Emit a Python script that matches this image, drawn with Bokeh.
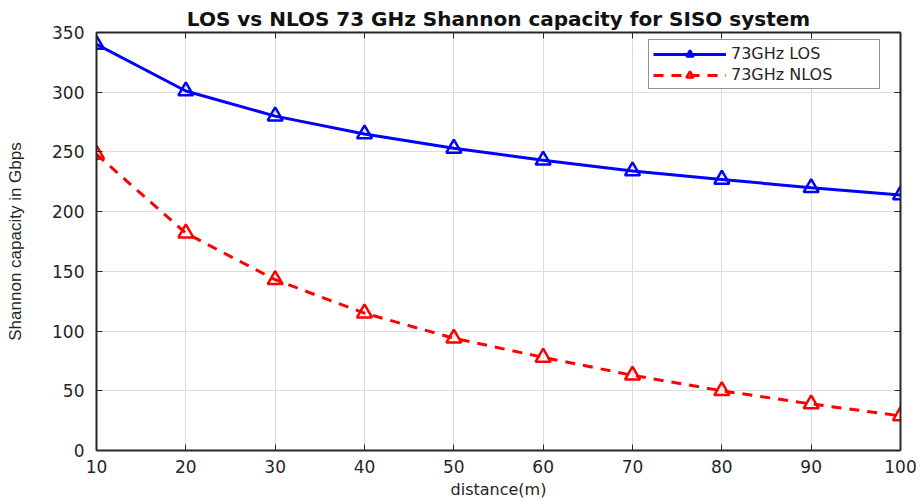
from bokeh.plotting import figure
from bokeh.models import LinearAxis, Range1d, Legend, LegendItem, FixedTicker
from bokeh.embed import file_html
from bokeh.resources import INLINE

distance = [10, 20, 30, 40, 50, 60, 70, 80, 90, 100]
los = [340, 301, 280, 265, 253, 243, 234, 227, 220, 214]
nlos = [248, 182, 143, 115, 94, 78, 63, 50, 39, 29]
x_ticks = [10, 20, 30, 40, 50, 60, 70, 80, 90, 100]
y_ticks = [0, 50, 100, 150, 200, 250, 300, 350]

AX = "#262626"
FONT = "DejaVu Sans"

p = figure(width=922, height=502, output_backend="svg", toolbar_location=None,
           x_range=Range1d(10, 100), y_range=Range1d(0, 350),
           x_axis_location=None, y_axis_location=None,
           min_border_left=96, min_border_right=22, min_border_top=32, min_border_bottom=52)
p.outline_line_color = None

p.title.text = "LOS vs NLOS 73 GHz Shannon capacity for SISO system"
p.title.align = "center"
p.title.text_font = FONT
p.title.text_font_size = "20px"
p.title.text_font_style = "bold"
p.title.text_color = "#111111"
p.title.offset = -10
p.title.standoff = 3

def make_axis(labels):
    ax = LinearAxis()
    ax.axis_line_color = AX
    ax.axis_line_width = 2
    ax.major_tick_in = 6
    ax.major_tick_out = 0
    ax.minor_tick_line_color = None
    ax.major_tick_line_color = AX
    ax.major_tick_line_width = 1
    ax.major_label_text_font = FONT
    ax.major_label_text_font_size = "17px"
    ax.major_label_text_color = AX
    if not labels:
        ax.major_label_text_color = None
        ax.major_label_text_alpha = 0
        ax.major_label_standoff = 0
    return ax

xb = make_axis(True)
xb.ticker = FixedTicker(ticks=x_ticks)
xb.axis_label = "distance(m)"
xb.axis_label_text_font = FONT
xb.axis_label_text_font_size = "16px"
xb.axis_label_text_font_style = "normal"
xb.axis_label_text_color = AX
xb.major_label_standoff = 9
xb.axis_label_standoff = 4
p.add_layout(xb, "below")

yl = make_axis(True)
yl.ticker = FixedTicker(ticks=y_ticks)
yl.axis_label = "Shannon capacity in Gbps"
yl.axis_label_text_font = "Liberation Sans"
yl.axis_label_text_font_size = "17px"
yl.axis_label_text_font_style = "normal"
yl.axis_label_text_color = AX
yl.major_label_standoff = 12
yl.axis_label_standoff = 24
p.add_layout(yl, "left")

xt = make_axis(False)
xt.ticker = FixedTicker(ticks=x_ticks)
p.add_layout(xt, "above")

yr = make_axis(False)
yr.ticker = FixedTicker(ticks=y_ticks)
p.add_layout(yr, "right")

p.xgrid.ticker = FixedTicker(ticks=x_ticks)
p.ygrid.ticker = FixedTicker(ticks=y_ticks)
p.grid.grid_line_color = "#dcdcdc"
p.grid.grid_line_width = 1

l1 = p.line(distance, los, line_color="#0000ff", line_width=3)
m1 = p.scatter(distance, los, marker="triangle", size=15, line_color="#0000ff",
               line_width=2.5, fill_color="white", fill_alpha=0.0)
l2 = p.line(distance, nlos, line_color="#ff0000", line_width=3, line_dash="10 8")
m2 = p.scatter(distance, nlos, marker="triangle", size=15, line_color="#ff0000",
               line_width=2.5, fill_color="white", fill_alpha=0.0)

legend = Legend(items=[LegendItem(label="73GHz LOS", renderers=[l1, m1]),
                       LegendItem(label="73GHz NLOS", renderers=[l2, m2])],
                location=(552, 361))
legend.label_text_font = FONT
legend.label_text_font_size = "16px"
legend.label_text_color = AX
legend.border_line_color = AX
legend.border_line_width = 1.5
legend.glyph_width = 73
legend.glyph_height = 18
legend.spacing = 2
legend.padding = 4
legend.margin = 0
legend.label_standoff = 5
legend.label_height = 18
legend.label_width = 144
p.add_layout(legend, "center")

open("out.html", "w").write(file_html(p, INLINE))
